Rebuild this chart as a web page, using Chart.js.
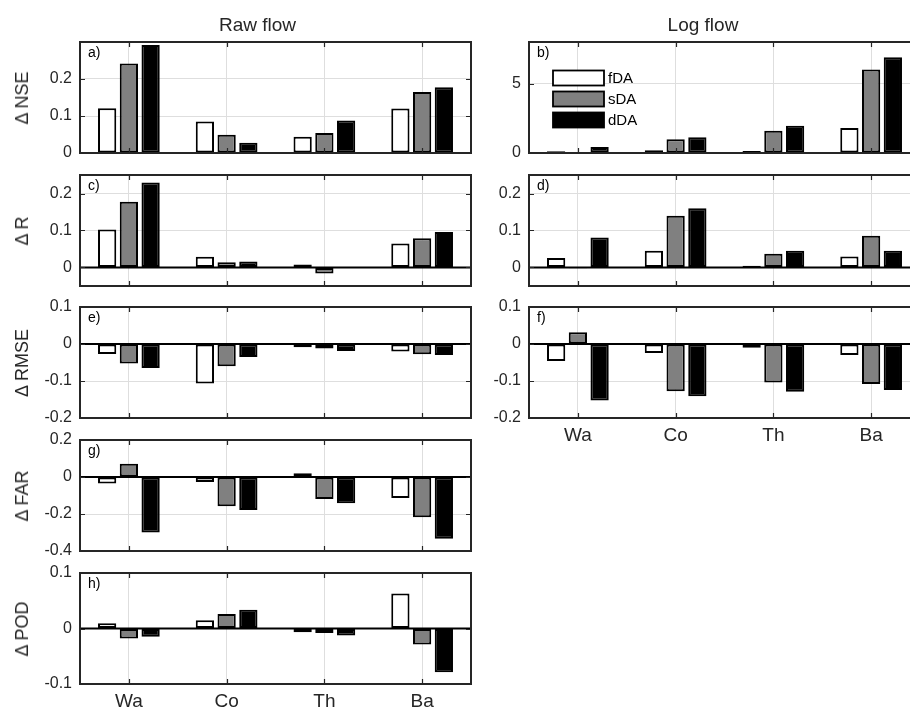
<!DOCTYPE html>
<html><head><meta charset="utf-8">
<script src="https://cdn.jsdelivr.net/npm/chart.js@4"></script>
<style>
html,body{margin:0;padding:0;background:#fff;overflow:hidden;width:910px;height:711px;position:relative;}
canvas{position:absolute;}
.t{position:absolute;font-family:'Liberation Sans',Arial,sans-serif;color:#262626;white-space:nowrap;line-height:1;}
</style></head><body>
<script>
// ---------- data ----------
const categories = ['Wa', 'Co', 'Th', 'Ba'];
const seriesNames = ['fDA', 'sDA', 'dDA'];

// a) Raw flow, delta NSE
const rawNSE_fDA = [0.121, 0.085, 0.044, 0.120];
const rawNSE_sDA = [0.242, 0.049, 0.054, 0.165];
const rawNSE_dDA = [0.292, 0.028, 0.088, 0.178];
// b) Log flow, delta NSE
const logNSE_fDA = [0.12, 0.19, 0.14, 1.80];
const logNSE_sDA = [0.0, 1.00, 1.61, 6.02];
const logNSE_dDA = [0.43, 1.13, 1.97, 6.90];
// c) Raw flow, delta R
const rawR_fDA = [0.103, 0.029, 0.008, 0.065];
const rawR_sDA = [0.178, 0.014, -0.016, 0.079];
const rawR_dDA = [0.230, 0.016, 0.0, 0.096];
// d) Log flow, delta R
const logR_fDA = [0.026, 0.045, 0.005, 0.030];
const logR_sDA = [-0.002, 0.140, 0.037, 0.086];
const logR_dDA = [0.081, 0.160, 0.045, 0.045];
// e) Raw flow, delta RMSE
const rawRMSE_fDA = [-0.027, -0.107, -0.009, -0.020];
const rawRMSE_sDA = [-0.053, -0.060, -0.012, -0.028];
const rawRMSE_dDA = [-0.065, -0.035, -0.019, -0.030];
// f) Log flow, delta RMSE
const logRMSE_fDA = [-0.046, -0.024, -0.010, -0.030];
const logRMSE_sDA = [0.032, -0.128, -0.104, -0.108];
const logRMSE_dDA = [-0.153, -0.141, -0.129, -0.124];
// g) Raw flow, delta FAR
const rawFAR_fDA = [-0.035, -0.027, 0.020, -0.114];
const rawFAR_sDA = [0.071, -0.158, -0.119, -0.217];
const rawFAR_dDA = [-0.300, -0.178, -0.142, -0.334];
// h) Raw flow, delta POD
const rawPOD_fDA = [0.0095, 0.015, -0.0066, 0.063];
const rawPOD_sDA = [-0.018, 0.026, -0.008, -0.029];
const rawPOD_dDA = [-0.015, 0.034, -0.0125, -0.079];

// y-axis limits and tick labels
const ticksNSEraw = [0, 0.1, 0.2];
const ticksNSElog = [0, 5];
const ticksR = [0, 0.1, 0.2];
const ticksRMSE = [-0.2, -0.1, 0, 0.1];
const ticksFAR = [-0.4, -0.2, 0, 0.2];
const ticksPOD = [-0.1, 0, 0.1];
const limNSEraw = [0, 0.3];
const limNSElog = [0, 8];
const limR = [-0.05, 0.25];
const limRMSE = [-0.2, 0.1];
const limFAR = [-0.4, 0.2];
const limPOD = [-0.1, 0.1];

const columnTitles = ['Raw flow', 'Log flow'];

// ---------- layout / style ----------
const FONT = "'Liberation Sans', Arial, sans-serif";
const INK = '#262626';
const fills = ['#ffffff', '#808080', '#000000'];
const colLeft = [80, 529];
const axW = 391, axH = 111;
const rowTop = [42, 175, 307, 440, 573];
const PADL = 80, PADT = 20, PADR = 20;

const panels = [
  {letter:'a)', col:0, row:0, series:[rawNSE_fDA, rawNSE_sDA, rawNSE_dDA], lim:limNSEraw, ticks:ticksNSEraw, ylabel:'\u0394 NSE'},
  {letter:'b)', col:1, row:0, series:[logNSE_fDA, logNSE_sDA, logNSE_dDA], lim:limNSElog, ticks:ticksNSElog, legend:true},
  {letter:'c)', col:0, row:1, series:[rawR_fDA, rawR_sDA, rawR_dDA], lim:limR, ticks:ticksR, ylabel:'\u0394 R'},
  {letter:'d)', col:1, row:1, series:[logR_fDA, logR_sDA, logR_dDA], lim:limR, ticks:ticksR},
  {letter:'e)', col:0, row:2, series:[rawRMSE_fDA, rawRMSE_sDA, rawRMSE_dDA], lim:limRMSE, ticks:ticksRMSE, ylabel:'\u0394 RMSE'},
  {letter:'f)', col:1, row:2, series:[logRMSE_fDA, logRMSE_sDA, logRMSE_dDA], lim:limRMSE, ticks:ticksRMSE, xlabels:true},
  {letter:'g)', col:0, row:3, series:[rawFAR_fDA, rawFAR_sDA, rawFAR_dDA], lim:limFAR, ticks:ticksFAR, ylabel:'\u0394 FAR'},
  {letter:'h)', col:0, row:4, series:[rawPOD_fDA, rawPOD_sDA, rawPOD_dDA], lim:limPOD, ticks:ticksPOD, ylabel:'\u0394 POD', xlabels:true},
];

const framePlugin = {
  id: 'frame',
  afterDatasetsDraw(chart, args, opts) {
    const ctx = chart.ctx, a = chart.chartArea, xs = chart.scales.x, ys = chart.scales.y;
    ctx.save();
    // zero baseline
    const y0 = ys.getPixelForValue(0);
    ctx.strokeStyle = '#000'; ctx.lineWidth = 2;
    ctx.beginPath(); ctx.moveTo(a.left, y0); ctx.lineTo(a.right, y0); ctx.stroke();
    // inward ticks
    ctx.strokeStyle = INK; ctx.lineWidth = 1.2;
    const TL = 5;
    ctx.beginPath();
    xs.ticks.forEach((t, i) => {
      const px = Math.round(xs.getPixelForTick(i)) + 0.5;
      ctx.moveTo(px, a.bottom); ctx.lineTo(px, a.bottom - TL);
      ctx.moveTo(px, a.top); ctx.lineTo(px, a.top + TL);
    });
    ys.ticks.forEach(t => {
      const py = Math.round(ys.getPixelForValue(t.value)) + 0.5;
      ctx.moveTo(a.left, py); ctx.lineTo(a.left + TL, py);
      ctx.moveTo(a.right, py); ctx.lineTo(a.right - TL, py);
    });
    ctx.stroke();
    // box
    ctx.lineWidth = 2;
    ctx.strokeRect(a.left, a.top, a.right - a.left, a.bottom - a.top);
    // panel letter
    ctx.fillStyle = '#000';
    ctx.font = '14px ' + FONT;
    ctx.textBaseline = 'alphabetic'; ctx.textAlign = 'left';
    ctx.fillText(opts.letter, a.left + 8, a.top + 15);
    // legend
    if (opts.legend) {
      const lx = a.left + 24, bw = 51, bh = 15;
      chart.data.datasets.forEach((ds, i) => {
        const cy = a.top + 36 + i * 21;
        ctx.fillStyle = ds.backgroundColor;
        ctx.fillRect(lx, cy - bh / 2, bw, bh);
        ctx.strokeStyle = '#000'; ctx.lineWidth = 1.8;
        ctx.strokeRect(lx, cy - bh / 2, bw, bh);
        ctx.fillStyle = '#000';
        ctx.font = '15px ' + FONT;
        ctx.textBaseline = 'middle';
        ctx.fillText(ds.label, lx + bw + 4, cy + 1);
      });
    }
    ctx.restore();
  }
};

panels.forEach(p => {
  const axL = colLeft[p.col], axT = rowTop[p.row];
  const bottom = p.xlabels ? 45 : 20;
  const cv = document.createElement('canvas');
  const W = PADL + axW + PADR, H = PADT + axH + bottom;
  cv.width = W; cv.height = H;
  cv.style.width = W + 'px'; cv.style.height = H + 'px';
  cv.style.left = (axL - PADL) + 'px'; cv.style.top = (axT - PADT) + 'px';
  document.body.appendChild(cv);
  new Chart(cv, {
    type: 'bar',
    data: {
      labels: categories,
      datasets: p.series.map((s, i) => ({
        label: seriesNames[i], data: s,
        backgroundColor: fills[i], borderColor: '#000', borderWidth: 2,
        borderSkipped: false,
        categoryPercentage: 0.667, barPercentage: 0.84
      }))
    },
    options: {
      responsive: false, animation: false, devicePixelRatio: 1,
      layout: {padding: {top: PADT, right: PADR, left: 0, bottom: 0}},
      plugins: {legend: {display: false}, tooltip: {enabled: false},
        frame: {letter: p.letter, legend: !!p.legend}},
      scales: {
        x: {
          type: 'category', offset: true,
          grid: {display: true, offset: false, color: '#dedede', lineWidth: 1, drawTicks: false},
          border: {display: false},
          ticks: {display: !!p.xlabels, padding: 6, color: INK, font: {family: FONT, size: 19}, maxRotation: 0},
          afterFit: s => { s.height = bottom; }
        },
        y: {
          min: p.lim[0], max: p.lim[1],
          grid: {color: '#dedede', lineWidth: 1, drawTicks: false},
          border: {display: false},
          afterBuildTicks: s => { s.ticks = p.ticks.map(v => ({value: v})); },
          ticks: {padding: 8, color: INK, font: {family: FONT, size: 16},
            callback: v => String(v)},
          afterFit: s => { s.width = PADL; }
        }
      }
    },
    plugins: [framePlugin]
  });
  if (p.ylabel) {
    const d = document.createElement('div');
    d.className = 't';
    d.textContent = p.ylabel;
    d.style.fontSize = '18px';
    d.style.left = '22px';
    d.style.top = (axT + axH / 2) + 'px';
    d.style.transform = 'translate(-50%,-50%) rotate(-90deg)';
    document.body.appendChild(d);
  }
});

// column titles
[[257.5, columnTitles[0]], [703, columnTitles[1]]].forEach(([cx, txt]) => {
  const d = document.createElement('div');
  d.className = 't';
  d.textContent = txt;
  d.style.fontSize = '19px';
  d.style.left = cx + 'px';
  d.style.top = '15px';
  d.style.transform = 'translateX(-50%)';
  document.body.appendChild(d);
});
</script>
</body></html>
